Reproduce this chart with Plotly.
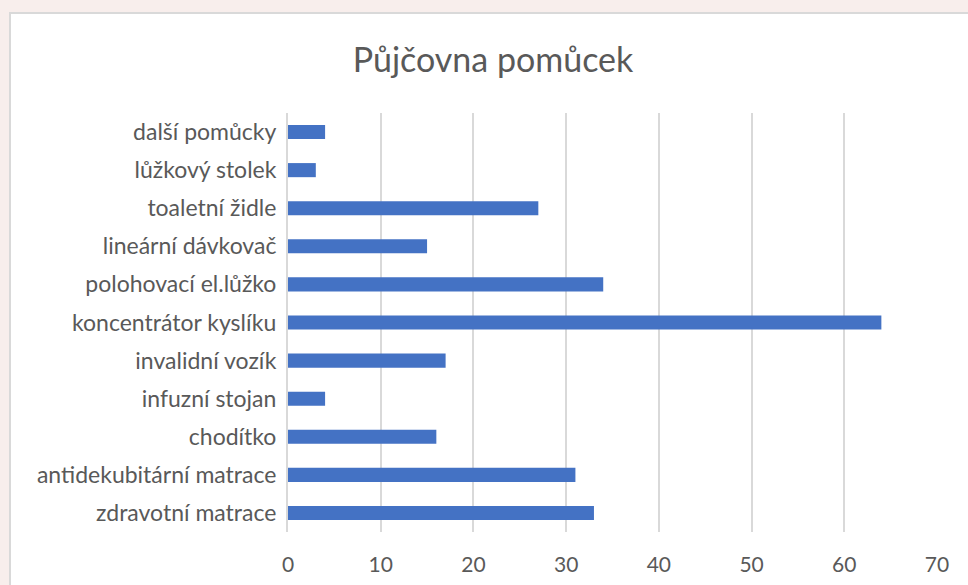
import plotly.graph_objects as go

categories = ["zdravotní matrace", "antidekubitární matrace", "chodítko", "infuzní stojan",
              "invalidní vozík", "koncentrátor kyslíku", "polohovací el.lůžko",
              "lineární dávkovač", "toaletní židle", "lůžkový stolek", "další pomůcky"]
values = [33, 31, 16, 4, 17, 64, 34, 15, 27, 3, 4]
x_ticks = [0, 10, 20, 30, 40, 50, 60, 70]

W, H = 968, 585
L, R, T, B = 288, 937, 113, 532
pw, ph = R - L, B - T

font_family = "Lato, 'Open Sans', sans-serif"
grey = "#595959"

fig = go.Figure(go.Bar(
    y=categories, x=values, orientation="h",
    marker=dict(color="#4472C4", line=dict(width=0)),
))

def px_x(p):
    return (p - L) / pw

def px_y(p):
    return (B - p) / ph

fig.add_shape(type="rect", xref="paper", yref="paper",
              x0=px_x(10), x1=px_x(990), y0=px_y(600), y1=px_y(13),
              fillcolor="white", line=dict(color="#d9d9d9", width=2), layer="below")

fig.update_layout(
    width=W, height=H,
    margin=dict(l=L, r=W - R, t=T, b=H - B, autoexpand=False),
    paper_bgcolor="#f8eeec",
    plot_bgcolor="white",
    bargap=0.63,
    showlegend=False,
    title=dict(text="Půjčovna pomůcek", x=493 / W, xanchor="center", xref="container",
               y=1 - 60 / H, yanchor="middle", yref="container",
               font=dict(family=font_family, size=34, color=grey)),
    font=dict(family=font_family, color=grey),
)
fig.update_xaxes(range=[0, 70], tickvals=x_ticks, showgrid=True, gridcolor="#d9d9d9", gridwidth=2,
                 zeroline=False, showline=False, tickfont=dict(size=21, color=grey),
                 ticklabelstandoff=18, fixedrange=True, automargin=False)
fig.update_yaxes(showgrid=False, showline=True, linecolor="#d9d9d9", linewidth=2,
                 tickfont=dict(size=23, color=grey), ticklabelstandoff=5, automargin=False,
                 categoryorder="array", categoryarray=categories, fixedrange=True)

fig.write_html("out.html", config={"displayModeBar": False},
               post_script="document.body.style.margin='0';document.body.style.overflow='hidden';")
